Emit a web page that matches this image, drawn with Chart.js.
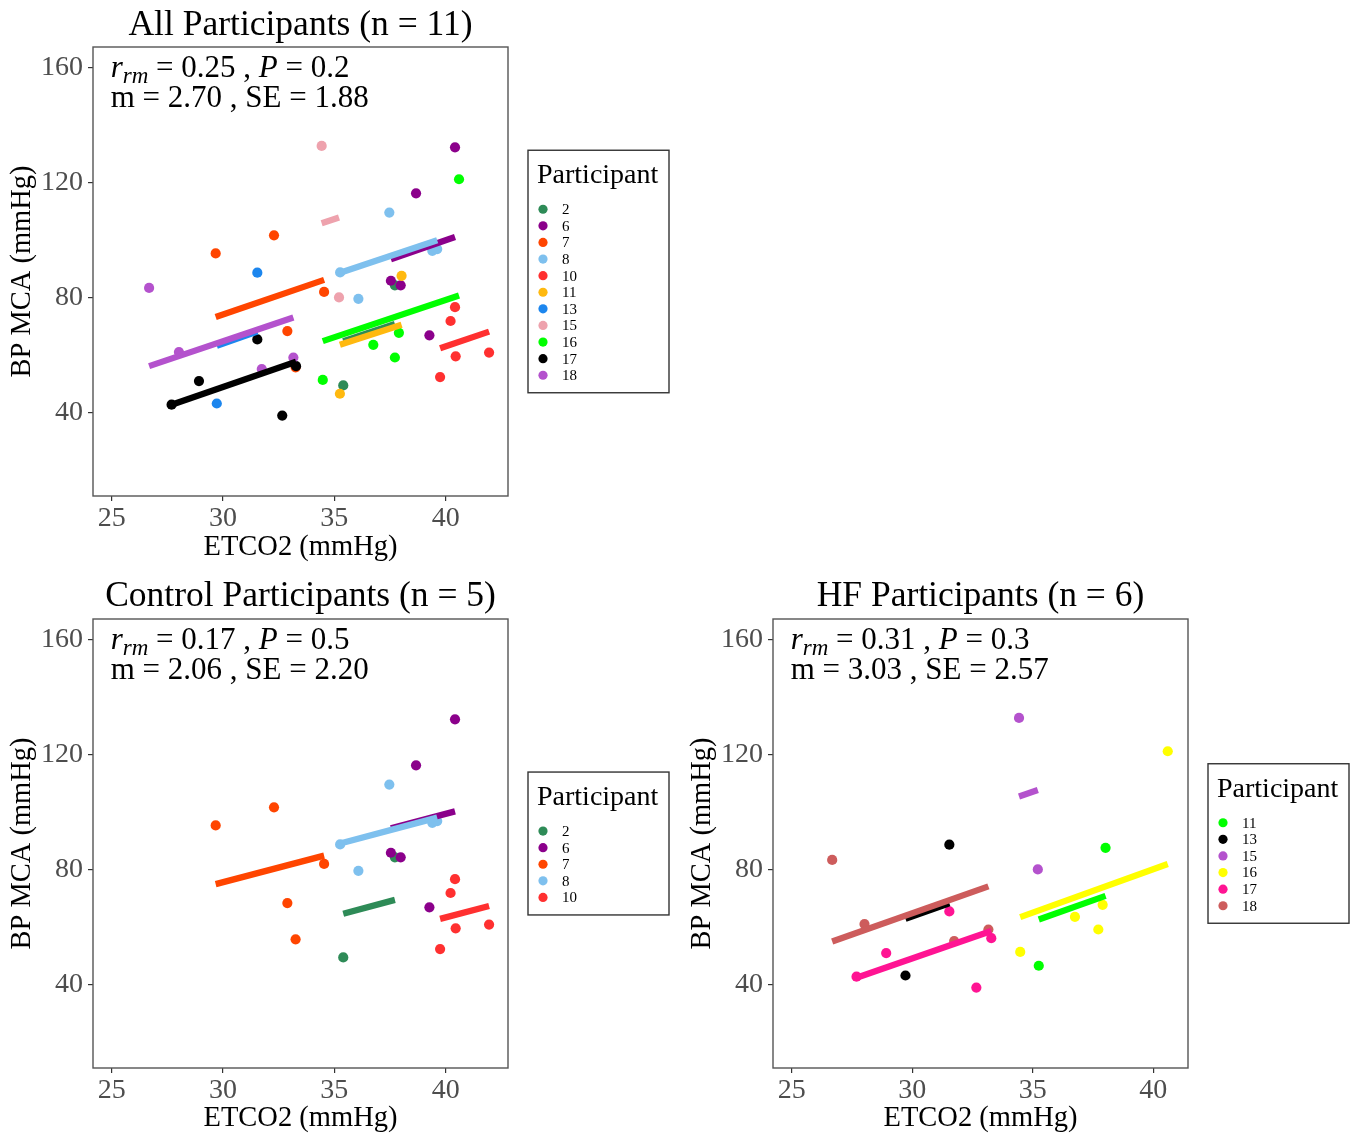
<!DOCTYPE html>
<html><head><meta charset="utf-8">
<script src="https://cdn.jsdelivr.net/npm/chart.js@4.4.1/dist/chart.umd.min.js"></script>
<style>
html,body{margin:0;padding:0;background:#fff;}
body{width:1351px;height:1137px;position:relative;overflow:hidden;}
canvas{position:absolute;}
</style></head><body>
<canvas id="c1" width="680" height="570" style="left:0;top:0"></canvas>
<canvas id="c2" width="680" height="567" style="left:0;top:570px"></canvas>
<canvas id="c3" width="671" height="567" style="left:680px;top:570px"></canvas>
<script>
// ---------- DATA ----------
const xTicks = [25, 30, 35, 40];
const yTicks = [40, 80, 120, 160];

// per-participant observations (ETCO2, BP MCA)
const p2_etco2  = [35.40, 37.72];                      const p2_bp  = [49.6, 84.4];
const p6_etco2  = [37.54, 37.98, 38.67, 39.27, 40.42]; const p6_bp  = [86.0, 84.4, 116.4, 67.0, 132.4];
const p7_etco2  = [29.67, 32.29, 32.89, 33.26, 34.54]; const p7_bp  = [95.5, 101.8, 68.5, 55.9, 82.1];
const p8_etco2  = [35.26, 36.08, 37.47, 39.40, 39.62]; const p8_bp  = [88.9, 79.7, 109.7, 96.4, 97.0];
const p10_etco2 = [39.75, 40.22, 40.42, 40.45, 41.95]; const p10_bp = [52.5, 72.0, 76.8, 59.7, 61.0];
const p11_etco2 = [35.25, 38.02];                      const p11_bp = [46.7, 87.7];
const p13_etco2 = [29.72, 31.54];                      const p13_bp = [43.3, 88.8];
const p15_etco2 = [34.43, 35.21];                      const p15_bp = [132.9, 80.2];
const p16_etco2 = [34.48, 36.75, 37.72, 37.90, 40.60]; const p16_bp = [51.5, 63.7, 59.3, 67.9, 121.3];
const p17_etco2 = [27.69, 28.92, 31.54, 32.66, 33.28]; const p17_bp = [42.9, 51.1, 65.6, 39.1, 56.3];
const p18_etco2 = [26.68, 28.02, 31.74, 33.16];        const p18_bp = [83.5, 61.2, 55.3, 59.3];

// All participants panel
const allIds      = ['2','6','7','8','10','11','13','15','16','17','18'];
const allFitStart = [65.0, 93.5, 73.4, 88.8, 62.5, 63.7, 63.4, 106.0, 65.0, 42.9, 56.3];
const allFitEnd   = [71.0, 101.2, 86.3, 100.1, 68.3, 70.7, 68.3, 108.0, 80.9, 57.8, 73.2];
const allStats    = ['0.25', '0.2', '2.70', '1.88'];

// Control panel
const ctrlIds      = ['2','6','7','8','10'];
const ctrlFitStart = [64.8, 94.5, 75.1, 89.2, 63.0];
const ctrlFitEnd   = [69.6, 100.4, 85.0, 98.2, 67.5];
const ctrlStats    = ['0.17', '0.5', '2.06', '2.20'];

// HF panel
const hfIds      = ['11','13','15','16','17','18'];
const hfFitStart = [62.8, 63.0, 105.6, 63.6, 42.5, 55.1];
const hfFitEnd   = [71.0, 68.4, 107.8, 82.1, 58.8, 74.3];
const hfStats    = ['0.31', '0.3', '3.03', '2.57'];

// ---------- STYLES ----------
const allColors  = ['#2E8B57','#8B008B','#FF4500','#7EC0EE','#FF3030','#FFB90F','#1C86EE','#EEA2AD','#00FF00','#000000','#B452CD'];
const ctrlColors = ['#2E8B57','#8B008B','#FF4500','#7EC0EE','#FF3030'];
const hfColors   = ['#00FF00','#000000','#B452CD','#FFFF00','#FF1493','#CD5C5C'];

const FONT = "'Liberation Serif', 'Times New Roman', serif";
Chart.defaults.font.family = FONT;

const obsX = {'2':p2_etco2,'6':p6_etco2,'7':p7_etco2,'8':p8_etco2,'10':p10_etco2,'11':p11_etco2,'13':p13_etco2,'15':p15_etco2,'16':p16_etco2,'17':p17_etco2,'18':p18_etco2};
const obsY = {'2':p2_bp,'6':p6_bp,'7':p7_bp,'8':p8_bp,'10':p10_bp,'11':p11_bp,'13':p13_bp,'15':p15_bp,'16':p16_bp,'17':p17_bp,'18':p18_bp};

function buildDatasets(ids, colors, fitStart, fitEnd) {
  const seq = [];
  ids.forEach((id, i) => {
    seq.push({
      label: id, data: obsX[id].map((x, k) => ({x, y: obsY[id][k]})),
      backgroundColor: colors[i], borderColor: colors[i], pointRadius: 5.1, pointBorderWidth: 0,
      showLine: false
    });
  });
  ids.forEach((id, i) => {
    const xs = obsX[id];
    seq.push({
      label: id + ' fit',
      data: [{x: Math.min(...xs), y: fitStart[i]}, {x: Math.max(...xs), y: fitEnd[i]}],
      borderColor: colors[i], backgroundColor: colors[i], borderWidth: 6.3, borderCapStyle: 'butt',
      pointRadius: 0, showLine: true, tension: 0
    });
  });
  const n = seq.length;
  seq.forEach((d, p) => { d.order = n - p; });
  return seq;
}

function makeChart(canvasId, cfg) {
  const deco = {
    id: 'deco' + canvasId,
    afterDatasetsDraw(chart) {
      const ctx = chart.ctx, a = chart.chartArea;
      const xs = chart.scales.x;
      ctx.save();
      // panel border
      ctx.strokeStyle = '#555555'; ctx.lineWidth = 1.4;
      ctx.strokeRect(a.left, a.top, a.right - a.left, a.bottom - a.top);
      // title
      ctx.fillStyle = '#000'; ctx.font = `35.5px ${FONT}`; ctx.textAlign = 'center'; ctx.textBaseline = 'alphabetic';
      ctx.fillText(cfg.title, (a.left + a.right) / 2, cfg.titleY);
      // stats annotation
      const S = 31;
      const x0 = xs.getPixelForValue(25) - 1;
      let cx = x0;
      const y1 = a.top + 30, y2 = a.top + 60;
      ctx.textAlign = 'left';
      const seg = (t, f, dy) => { ctx.font = f; ctx.fillText(t, cx, y1 + (dy || 0)); cx += ctx.measureText(t).width; };
      seg('r', `italic ${S}px ${FONT}`);
      seg('rm', `italic ${Math.round(S * 0.75)}px ${FONT}`, 6);
      seg(' = ' + cfg.stats[0] + ' , ', `${S}px ${FONT}`);
      seg('P', `italic ${S}px ${FONT}`);
      seg(' = ' + cfg.stats[1], `${S}px ${FONT}`);
      ctx.font = `${S}px ${FONT}`;
      ctx.fillText('m = ' + cfg.stats[2] + ' , SE = ' + cfg.stats[3], x0, y2);
      // legend
      const n = cfg.ids.length, step = 16.6;
      const h = 59 + (n - 1) * step + 17.5, w = 141;
      const bl = a.right + 20, bt = (a.top + a.bottom) / 2 - h / 2;
      ctx.strokeStyle = '#333333'; ctx.lineWidth = 1.4;
      ctx.strokeRect(bl, bt, w, h);
      ctx.font = `28px ${FONT}`; ctx.fillStyle = '#000';
      ctx.fillText('Participant', bl + 9, bt + 33);
      ctx.font = `15px ${FONT}`; ctx.textBaseline = 'middle';
      cfg.ids.forEach((id, i) => {
        const cy = bt + 59 + i * step;
        ctx.fillStyle = cfg.colors[i];
        ctx.beginPath(); ctx.arc(bl + 15, cy, 4.6, 0, Math.PI * 2); ctx.fill();
        ctx.fillStyle = '#000';
        ctx.fillText(id, bl + 34, cy + 1);
      });
      ctx.restore();
    }
  };
  return new Chart(document.getElementById(canvasId), {
    type: 'scatter',
    data: { datasets: buildDatasets(cfg.ids, cfg.colors, cfg.fitStart, cfg.fitEnd) },
    options: {
      responsive: false, animation: false, events: [],
      layout: { padding: { left: 0, top: cfg.padTop, right: cfg.padRight, bottom: 0 } },
      plugins: { legend: { display: false }, tooltip: { enabled: false }, title: { display: false } },
      scales: {
        x: {
          type: 'linear', min: cfg.xMin, max: cfg.xMax,
          afterBuildTicks: s => { s.ticks = xTicks.map(v => ({ value: v })); },
          afterFit: s => { s.height = cfg.xAxisH; },
          grid: { display: true, drawOnChartArea: false, drawTicks: true, tickLength: 5, color: '#333333', lineWidth: 1.2 },
          border: { display: false },
          ticks: { color: '#4D4D4D', font: { size: 28 }, padding: 1, maxRotation: 0, autoSkip: false },
          title: { display: true, text: 'ETCO2 (mmHg)', color: '#000', font: { size: 28.5 }, padding: { top: 0, bottom: cfg.xTitlePad } }
        },
        y: {
          type: 'linear', min: 11.13, max: 167.3,
          afterBuildTicks: s => { s.ticks = yTicks.map(v => ({ value: v })); },
          afterFit: s => { s.width = 93; },
          grid: { display: true, drawOnChartArea: false, drawTicks: true, tickLength: 5, color: '#333333', lineWidth: 1.2 },
          border: { display: false },
          ticks: { color: '#4D4D4D', font: { size: 28 }, padding: 5, autoSkip: false },
          title: { display: true, text: 'BP MCA (mmHg)', color: '#000', font: { size: 28.5 }, padding: { top: 5.4, bottom: 0 } }
        }
      }
    },
    plugins: [deco]
  });
}

makeChart('c1', { title: 'All Participants (n = 11)', titleY: 35, ids: allIds, colors: allColors,
  fitStart: allFitStart, fitEnd: allFitEnd, stats: allStats,
  padTop: 47, padRight: 172, xAxisH: 74, xTitlePad: 4.9, xMin: 24.16, xMax: 42.80 });
makeChart('c2', { title: 'Control Participants (n = 5)', titleY: 36, ids: ctrlIds, colors: ctrlColors,
  fitStart: ctrlFitStart, fitEnd: ctrlFitEnd, stats: ctrlStats,
  padTop: 49, padRight: 172, xAxisH: 69, xTitlePad: 0.9, xMin: 24.16, xMax: 42.80 });
makeChart('c3', { title: 'HF Participants (n = 6)', titleY: 36, ids: hfIds, colors: hfColors,
  fitStart: hfFitStart, fitEnd: hfFitEnd, stats: hfStats,
  padTop: 49, padRight: 163, xAxisH: 69, xTitlePad: 0.9, xMin: 24.225, xMax: 41.44 });
</script>
</body></html>
